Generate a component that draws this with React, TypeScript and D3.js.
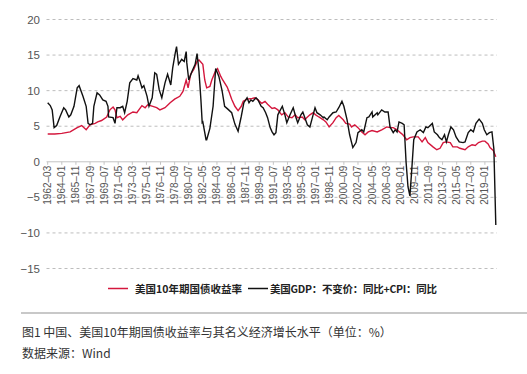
import React from "react";
import * as d3 from "d3";

const redDates = ["1962-03","1963-02","1964-01","1965-02","1966-01","1966-08","1967-03","1967-09","1968-05","1968-09","1969-03","1969-11","1970-04","1970-09","1970-12","1971-03","1971-08","1971-12","1972-08","1973-04","1973-10","1974-06","1974-11","1975-03","1975-11","1976-05","1976-10","1977-06","1978-02","1978-09","1979-05","1979-10","1980-03","1980-06","1980-10","1981-03","1981-08","1981-11","1982-05","1982-08","1982-11","1983-04","1983-07","1983-12","1984-04","1984-09","1984-12","1985-07","1985-10","1986-02","1986-07","1986-12","1987-05","1987-08","1988-02","1988-10","1989-02","1989-07","1990-01","1990-06","1990-10","1991-05","1991-09","1992-02","1992-08","1993-01","1993-06","1993-12","1994-05","1994-09","1995-04","1995-08","1995-11","1996-04","1996-09","1997-01","1997-06","1998-01","1998-05","1998-10","1999-04","1999-09","2000-01","2000-08","2000-12","2001-06","2001-09","2002-02","2002-07","2003-01","2003-06","2003-11","2004-05","2005-01","2005-08","2006-04","2006-09","2007-02","2007-08","2008-01","2008-05","2008-11","2009-04","2009-09","2010-05","2010-11","2011-04","2011-08","2012-04","2012-10","2013-03","2013-08","2013-12","2014-07","2014-11","2015-06","2015-10","2016-06","2016-11","2017-05","2017-10","2018-03","2018-09","2019-01","2019-06","2019-09","2020-02","2020-06"];
const redValues = [3.9,3.9,4.0,4.2,4.8,5.1,4.5,5.2,5.4,5.6,5.8,6.3,7.3,7.7,7.3,6.2,6.4,5.9,6.6,7.0,6.9,7.9,7.6,8.0,7.8,7.6,7.3,7.6,8.3,8.8,9.2,9.9,11.5,10.4,12.3,13.0,14.1,14.3,13.7,11.5,10.4,10.6,11.5,12.6,13.1,12.0,11.5,10.5,9.8,8.8,7.8,7.2,7.8,8.5,8.8,8.9,9.0,8.7,8.2,8.5,8.1,7.5,7.6,7.3,6.6,6.9,6.3,6.2,6.6,6.2,6.3,5.9,6.2,6.6,6.9,6.6,6.3,5.9,5.6,4.9,5.5,6.2,6.5,5.9,5.4,5.3,4.9,5.2,4.8,4.2,3.8,4.2,4.4,4.2,4.5,4.9,4.8,4.8,4.5,4.1,3.8,3.1,3.4,3.5,3.5,2.8,3.4,2.7,2.1,1.7,1.9,2.7,2.8,2.7,2.1,2.1,1.9,1.7,2.1,2.4,2.3,2.7,2.9,2.9,2.5,2.0,1.6,0.7];

const blackDates = ["1962-03","1962-07","1962-10","1963-01","1963-05","1963-10","1964-04","1964-07","1964-12","1965-03","1965-08","1966-01","1966-04","1966-10","1967-03","1967-06","1967-09","1968-01","1968-03","1968-08","1968-12","1969-05","1969-10","1970-01","1970-02","1970-09","1970-12","1971-03","1971-08","1971-12","1972-03","1972-07","1972-11","1973-04","1973-10","1973-12","1974-03","1974-06","1974-09","1975-02","1975-05","1975-10","1976-02","1976-05","1976-09","1977-01","1977-06","1977-10","1978-03","1978-06","1978-10","1978-12","1979-03","1979-08","1979-12","1980-03","1980-04","1980-07","1980-12","1981-05","1981-08","1981-11","1982-02","1982-04","1982-05","1982-10","1982-11","1983-04","1983-09","1984-01","1984-06","1984-11","1985-03","1985-08","1986-02","1986-07","1986-12","1987-05","1987-09","1988-02","1988-05","1988-08","1988-11","1989-04","1989-07","1989-12","1990-03","1990-07","1990-10","1991-02","1991-05","1991-08","1991-11","1992-02","1992-09","1993-01","1993-04","1993-09","1994-02","1994-06","1994-09","1995-02","1995-05","1995-12","1996-04","1996-09","1996-12","1997-03","1997-08","1998-01","1998-02","1998-07","1998-10","1999-04","1999-09","2000-01","2000-06","2000-09","2001-02","2001-06","2001-11","2002-04","2002-07","2003-01","2003-04","2003-09","2003-12","2004-05","2004-06","2005-01","2005-02","2005-08","2006-01","2006-06","2006-09","2007-02","2007-05","2007-08","2007-11","2008-04","2008-07","2008-10","2009-01","2009-04","2009-07","2009-10","2010-03","2010-08","2011-01","2011-05","2011-08","2012-03","2012-06","2012-11","2013-02","2013-06","2013-10","2014-01","2014-04","2014-08","2014-12","2015-04","2015-09","2016-03","2016-06","2016-11","2017-03","2017-07","2017-11","2018-04","2018-09","2018-12","2019-04","2019-08","2019-12","2020-03","2020-06"];
const blackValues = [8.3,7.9,7.3,4.8,5.1,6.3,7.6,7.3,6.3,6.6,7.8,10.4,10.7,9.2,7.8,5.4,5.2,5.4,7.8,9.7,9.4,8.7,8.5,7.8,6.3,6.2,5.4,7.6,7.6,7.8,6.9,8.5,11.1,11.7,11.5,12.1,11.3,10.4,10.7,9.2,7.8,9.0,12.5,12.3,10.1,9.0,11.1,12.3,10.8,13.2,15.3,16.2,13.7,14.4,14.1,15.5,13.9,11.5,12.7,13.7,15.2,12.7,8.7,5.5,5.6,3.1,3.1,4.7,7.8,13.1,12.0,10.0,7.8,7.4,6.9,5.3,4.3,6.4,8.3,9.0,8.3,8.7,8.5,9.0,8.7,7.8,7.6,6.9,6.2,4.8,4.2,3.8,4.1,6.6,7.8,6.6,5.5,6.6,7.6,6.3,5.5,6.6,7.0,5.2,4.9,6.6,7.6,6.9,6.6,6.2,6.3,5.9,6.3,6.9,7.0,7.6,8.5,7.8,5.9,3.8,2.0,2.7,4.1,4.5,4.2,6.2,6.3,7.0,6.3,6.9,6.6,7.3,7.0,7.0,4.9,4.1,4.5,4.2,5.6,5.4,5.2,0.0,-3.5,-4.8,-1.0,3.1,4.2,4.5,4.1,4.9,4.8,5.4,4.2,3.8,3.4,3.1,3.8,2.8,3.8,4.9,4.5,3.5,2.8,2.7,2.8,4.1,4.5,4.2,5.4,6.0,5.4,4.5,3.8,4.1,4.2,1.8,-8.9];

const tickLabels = ["1962-03","1964-01","1965-11","1967-09","1969-07","1971-05","1973-03","1975-01","1976-11","1978-09","1980-07","1982-05","1984-03","1986-01","1987-11","1989-09","1991-07","1993-05","1995-03","1997-01","1998-11","2000-09","2002-07","2004-05","2006-03","2008-01","2009-11","2011-09","2013-07","2015-05","2017-03","2019-01"];
const yTicks = [20, 15, 10, 5, 0, -5, -10, -15];

const seriesNames = ["美国10年期国债收益率", "美国GDP：不变价：同比+CPI：同比"];
const caption = "图1 中国、美国10年期国债收益率与其名义经济增长水平（单位：%）";
const source = "数据来源：Wind";

const monthIndex = (s: string) => {
  const [yy, mm] = s.split("-").map(Number);
  return (yy - 1962) * 12 + (mm - 3);
};

const FONT = "'Liberation Sans', Arial, 'Noto Sans CJK SC', sans-serif";
const CJK = "'Noto Sans CJK SC', 'Liberation Sans', sans-serif";

export default function App() {
  const x = d3.scaleLinear().domain([0, 699]).range([47.7, 495.8]);
  const y = d3.scaleLinear().domain([-15, 20]).range([268.5, 19.5]);
  const line = d3
    .line<[number, number]>()
    .x((d) => x(d[0]))
    .y((d) => y(d[1]));
  const red: [number, number][] = redDates.map((d, i) => [monthIndex(d), redValues[i]]);
  const black: [number, number][] = blackDates.map((d, i) => [monthIndex(d), blackValues[i]]);
  const y0 = y(0);
  const fmt = (v: number) => (v < 0 ? "\u2212" + Math.abs(v) : String(v));

  return (
    <svg
      width={527}
      height={374}
      style={{ position: "absolute", left: 0, top: 0, background: "#fff" }}
      fontFamily={FONT}
    >
      <rect width={527} height={374} fill="#fff" />
      {yTicks
        .filter((t) => t !== 0)
        .map((t) => (
          <line
            key={t}
            x1={46.5}
            x2={497}
            y1={y(t)}
            y2={y(t)}
            stroke="#bdbdbd"
            strokeWidth={1}
            strokeDasharray="3,3"
          />
        ))}
      {yTicks.map((t) => (
        <text
          key={t}
          x={40}
          y={y(t)}
          dy="0.35em"
          textAnchor="end"
          fontSize={11.5}
          fill="#555"
        >
          {fmt(t)}
        </text>
      ))}
      <line x1={46.5} x2={497} y1={y0} y2={y0} stroke="#c4c4c4" strokeWidth={1} />
      {tickLabels.map((lab) => {
        const xp = x(monthIndex(lab));
        return (
          <g key={lab}>
            <line x1={xp} x2={xp} y1={y0} y2={y0 + 3} stroke="#c4c4c4" />
            <text
              transform={`translate(${xp},${y0 + 4}) rotate(-90)`}
              textAnchor="end"
              dy="0.35em"
              fontSize={10}
              fill="#555"
            >
              {lab.replace("-", "\u2013")}
            </text>
          </g>
        );
      })}
      <path d={line(red) || ""} fill="none" stroke="#d4173d" strokeWidth={1.4} />
      <path d={line(black) || ""} fill="none" stroke="#111" strokeWidth={1.4} />

      <line x1={108} x2={128} y1={288.5} y2={288.5} stroke="#d4173d" strokeWidth={1.5} />
      <text x={135} y={292.5} fontSize={10.5} fontWeight="bold" fill="#222" fontFamily={CJK}>
        {seriesNames[0]}
      </text>
      <line x1={248} x2={268} y1={288.5} y2={288.5} stroke="#111" strokeWidth={1.5} />
      <text x={270} y={292.5} fontSize={10.5} fontWeight="bold" fill="#222" fontFamily={CJK} textLength={167}>
        {seriesNames[1]}
      </text>

      <line x1={21} x2={527} y1={313} y2={313} stroke="#c8c8c8" strokeWidth={2} />
      <text x={22} y={337} fontSize={12} fill="#333" fontFamily={CJK}>
        {caption}
      </text>
      <text x={22} y={357.5} fontSize={12} fill="#333" fontFamily={CJK}>
        {source}
      </text>
    </svg>
  );
}
